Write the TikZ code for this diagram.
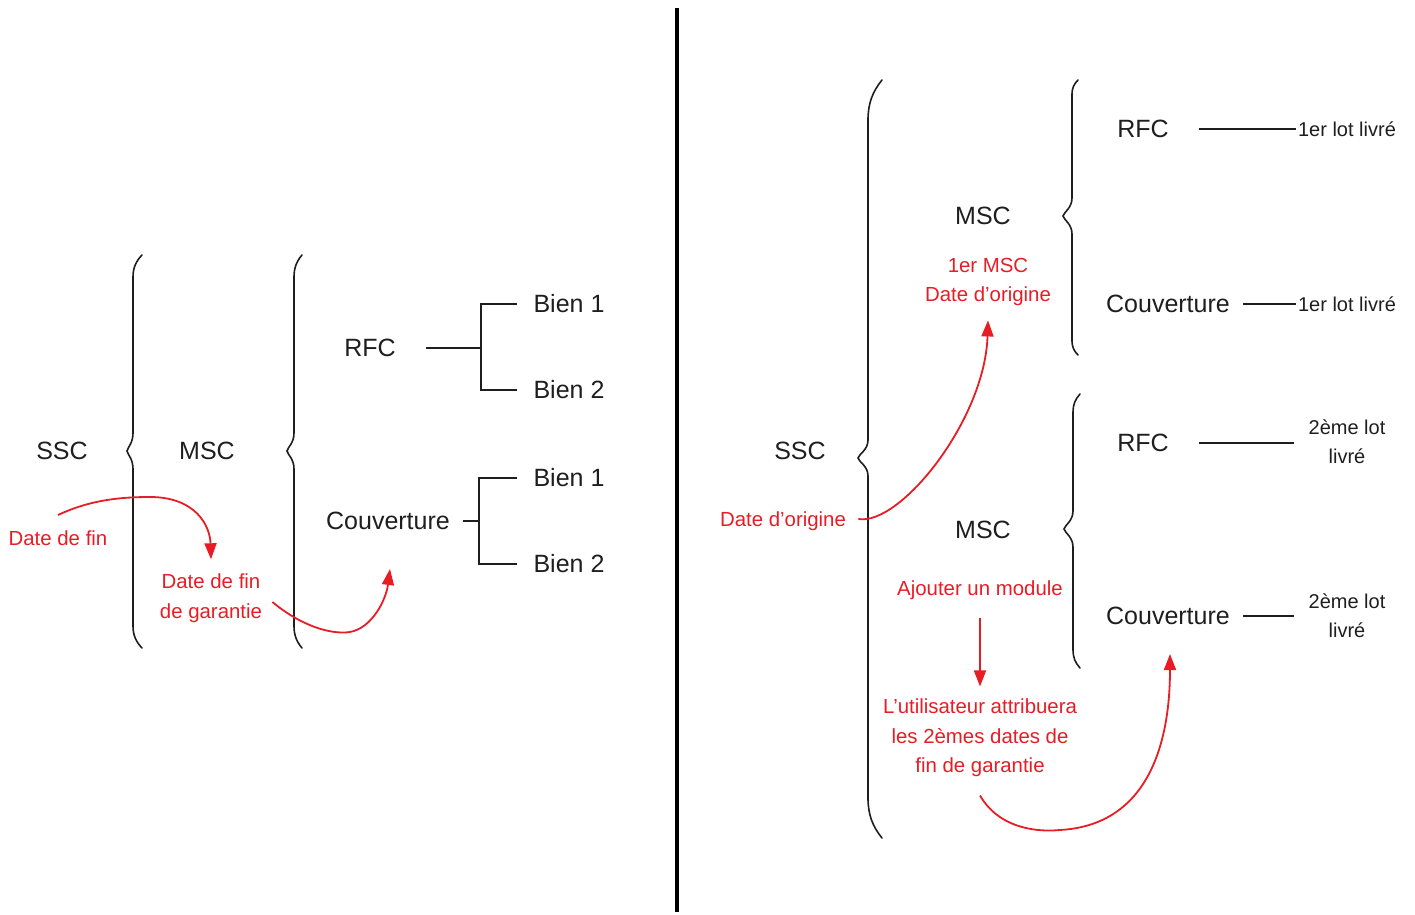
\documentclass[tikz,border=0pt]{standalone}
\usepackage{fontspec}
\setmainfont{Liberation Sans}
\usetikzlibrary{arrows.meta}
\definecolor{inkred}{RGB}{232,28,36}
\definecolor{ink}{RGB}{30,30,30}
\tikzset{
  lbl/.style={text=ink, font=\fontsize{12.5}{15}\selectfont, inner sep=1pt},
  small/.style={text=ink, font=\fontsize{10}{14.5}\selectfont, inner sep=1pt, align=center},
  note/.style={text=inkred, font=\fontsize{10.2}{14.8}\selectfont, inner sep=1pt, align=center},
  tree/.style={draw=ink, line width=0.9pt},
  bracestroke/.style={draw=ink, line width=0.8pt, line cap=round},
  flow/.style={draw=inkred, line width=0.9pt, -{Triangle[length=8pt,width=6pt]}},
  divider/.style={draw=black, line width=2pt},
}
% curly brace opening to the right:
% #1 x of ends, #2 x of stem, #3 x of tip, #4 top, #5 middle, #6 bottom, #7 length of end curls
\newcommand{\curlyopen}[7]{%
  \draw[bracestroke] (#1,#4)
    .. controls ({#2+0.3*(#1-#2)},{#4+0.3*#7}) and (#2,{#4+0.6*#7}) .. (#2,{#4+#7})
    -- (#2,#5-18) .. controls (#2,#5-8) and (#3+1,#5-4) .. (#3,#5)
    .. controls (#3+1,#5+4) and (#2,#5+8) .. (#2,#5+18)
    -- (#2,{#6-#7})
    .. controls (#2,{#6-0.6*#7}) and ({#2+0.3*(#1-#2)},{#6-0.3*#7}) .. (#1,#6);}
\begin{document}
\begin{tikzpicture}[x=0.5pt,y=-0.5pt]
\useasboundingbox (0,0) rectangle (1415,915);

% dividing line
\coordinate (divtop) at (677,8);
\coordinate (divbot) at (677,912);
\draw[divider] (divtop) -- (divbot);

%% ---------- left part ----------
\node[lbl] (sscL) at (62,451) {SSC};
\node[lbl] (mscL) at (207,451) {MSC};
\node[lbl] (rfcL) at (370,348) {RFC};
\node[lbl] (couvL) at (388,521) {Couverture};
\node[lbl] (b1a) at (569,304) {Bien 1};
\node[lbl] (b2a) at (569,390) {Bien 2};
\node[lbl] (b1b) at (569,478) {Bien 1};
\node[lbl] (b2b) at (569,564) {Bien 2};

\curlyopen{142}{133}{127}{255}{451}{648}{22}
\curlyopen{302}{294}{287}{255}{451}{648}{22}

% trees
\coordinate (jrfc) at (481,348);
\coordinate (jcouv) at (479,521);
\draw[tree] ([xshift=14pt]rfcL.east) -- (jrfc);
\draw[tree] ([xshift=-7pt]b1a.west) -| (jrfc) |- ([xshift=-7pt]b2a.west);
\draw[tree] ([xshift=5.5pt]couvL.east) -- (jcouv);
\draw[tree] ([xshift=-7pt]b1b.west) -| (jcouv) |- ([xshift=-7pt]b2b.west);

% notes
\node[note] (dfin) at (58,538) {Date de fin};
\node[note] (dfg) at (211,598) {Date de fin\\de garantie};
\coordinate (dfinstart) at (58,515);
\coordinate (couvtarget) at (390,569);
\draw[flow] (dfinstart) .. controls (90,500) and (120,497) .. (150,497)
  .. controls (195,497) and (210,525) .. ([yshift=6pt]dfg.north);
\draw[flow] ([xshift=4pt,yshift=-2pt]dfg.east) .. controls (300,625) and (330,635) .. (350,632)
  .. controls (372,628) and (386,600) .. (couvtarget);

%% ---------- right part ----------
\node[lbl] (sscR) at (800,451) {SSC};
\node[lbl] (msc1) at (983,216) {MSC};
\node[note] (msc1n) at (988,282) {1er MSC\\Date d'origine};
\node[lbl] (msc2) at (983,530) {MSC};
\node[note] (ajout) at (980,590) {Ajouter un module};
\node[note] (util) at (980,738) {L'utilisateur attribuera\\les 2èmes dates de\\fin de garantie};
\node[note] (dorig) at (783,521) {Date d'origine};

\node[lbl] (rfc1) at (1143,129) {RFC};
\node[lbl] (couv1) at (1168,304) {Couverture};
\node[lbl] (rfc2) at (1143,443) {RFC};
\node[lbl] (couv2) at (1168,616) {Couverture};
\node[small] (lot1a) at (1347,129) {1er lot livré};
\node[small] (lot1b) at (1347,304) {1er lot livré};
\node[small] (lot2a) at (1347,442) {2ème lot\\livré};
\node[small] (lot2b) at (1347,616) {2ème lot\\livré};

\curlyopen{882}{868}{858}{80}{458}{838}{40}
\curlyopen{1078}{1072}{1063}{80}{216}{355}{14}
\curlyopen{1080}{1073}{1064}{394}{529}{668}{18}

\draw[tree] ([xshift=14pt]rfc1.east) -- (lot1a.west |- rfc1.east);
\draw[tree] ([xshift=5.5pt]couv1.east) -- (lot1b.west |- couv1.east);
\draw[tree] ([xshift=14pt]rfc2.east) -- ([xshift=-6pt]lot2a.west |- rfc2.east);
\draw[tree] ([xshift=5.5pt]couv2.east) -- ([xshift=-6pt]lot2b.west |- couv2.east);

\coordinate (couv2target) at (1170,654);
\draw[flow] ([xshift=5pt,yshift=1pt]dorig.east) .. controls (900,526) and (985,420) .. ([yshift=-6pt]msc1n.south);
\draw[flow] ([yshift=-8pt]ajout.south) -- ([yshift=5pt]util.north);
\draw[flow] ([yshift=-8pt]util.south) .. controls (1000,830) and (1040,832) .. (1060,830)
  .. controls (1150,825) and (1170,740) .. (couv2target);
\end{tikzpicture}
\end{document}
